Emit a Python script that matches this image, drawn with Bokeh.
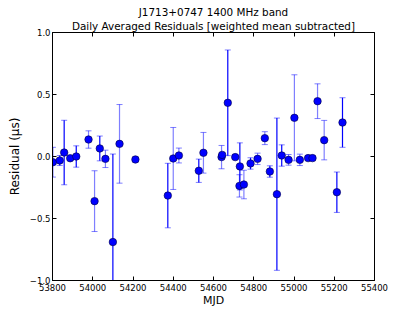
from bokeh.plotting import figure
from bokeh.models import (ColumnDataSource, LinearAxis, FixedTicker, Range1d,
                          CustomJSTickFormatter, Title)
from bokeh.embed import file_html
from bokeh.resources import INLINE

# ---- data ----
mjd = [53802, 53836, 53858, 53888, 53918, 53979, 54009, 54035, 54063, 54100,
       54133, 54212, 54373, 54400, 54428, 54527, 54550, 54640, 54643, 54671,
       54708, 54731, 54729, 54751, 54784, 54819, 54855, 54880, 54915, 54939,
       54973, 55002, 55029, 55070, 55092, 55117, 55150, 55213, 55241]
residual = [-0.046, -0.032, 0.032, -0.014, 0.0, 0.137, -0.36, 0.065, -0.019, -0.69,
            0.102, -0.024, -0.315, -0.016, 0.008, -0.115, 0.03, -0.005, 0.013, 0.433,
            -0.005, -0.08, -0.237, -0.226, -0.056, -0.019, 0.148, -0.121, -0.304, 0.008,
            -0.027, 0.312, -0.027, -0.013, -0.013, 0.446, 0.132, -0.288, 0.274]
error = [0.12, 0.04, 0.26, 0.02, 0.086, 0.07, 0.245, 0.1, 0.07, 0.71,
         0.317, 0.02, 0.26, 0.25, 0.06, 0.094, 0.164, 0.094, 0.02, 0.426,
         0.02, 0.19, 0.09, 0.115, 0.046, 0.046, 0.052, 0.046, 0.614, 0.086,
         0.043, 0.347, 0.046, 0.02, 0.02, 0.14, 0.159, 0.163, 0.2]
dark_bar = [0, 1, 1, 0, 1, 0, 0, 1, 0, 1,
            0, 0, 1, 0, 0, 1, 0, 0, 0, 1,
            0, 1, 0, 0, 1, 0, 0, 1, 1, 1,
            0, 0, 0, 0, 0, 0, 0, 1, 1]
x_ticks = [53800, 54000, 54200, 54400, 54600, 54800, 55000, 55200, 55400]
y_ticks = [-1.0, -0.5, 0.0, 0.5, 1.0]
title_lines = ["J1713+0747 1400 MHz band",
               "Daily Averaged Residuals [weighted mean subtracted]"]

lo = [r - e for r, e in zip(residual, error)]
hi = [r + e for r, e in zip(residual, error)]
alpha = [1.0 if d else 0.5 for d in dark_bar]

src = ColumnDataSource(dict(x=mjd, y=residual, lo=lo, hi=hi, a=alpha))

FONT = "DejaVu Sans"

p = figure(width=407, height=312, output_backend="svg", toolbar_location=None,
           title=None,
           x_range=Range1d(53800, 55400), y_range=Range1d(-1.0, 1.0),
           min_border_left=52, min_border_right=33, min_border_top=32,
           min_border_bottom=32, x_axis_label="MJD", y_axis_label="Residual (μs)")
p.background_fill_color = "white"
p.border_fill_color = "white"
p.outline_line_color = "black"
p.outline_line_width = 1
p.grid.visible = False

# error bars
p.segment(x0="x", y0="lo", x1="x", y1="hi", source=src, line_color="blue",
          line_alpha="a", line_width=1.2)
p.scatter(x="x", y="lo", source=src, marker="dash", size=6, line_color="blue",
          line_alpha=0.5, line_width=1)
p.scatter(x="x", y="hi", source=src, marker="dash", size=6, line_color="blue",
          line_alpha=0.5, line_width=1)
# points
p.scatter(x="x", y="y", source=src, marker="circle", size=7.5, fill_color="blue",
          line_color="#000040", line_width=0.6)

yfmt = CustomJSTickFormatter(code="""
return (tick < 0 ? "\\u2212" : "") + Math.abs(tick).toFixed(1);
""")
blank = CustomJSTickFormatter(code="return '';")

for ax in p.xaxis:
    ax.ticker = FixedTicker(ticks=x_ticks)
for ax in p.yaxis:
    ax.ticker = FixedTicker(ticks=y_ticks)
    ax.formatter = yfmt

for ax in list(p.xaxis) + list(p.yaxis):
    ax.major_tick_in = 4
    ax.major_tick_out = 0
    ax.minor_tick_line_color = None
    ax.major_tick_line_color = "black"
    ax.axis_line_color = "black"
    ax.major_label_text_font = FONT
    ax.major_label_text_font_size = "8.5px"
    ax.major_label_text_color = "black"
    ax.major_label_standoff = 3
    ax.axis_label_text_font = FONT
    ax.axis_label_text_font_size = "11px"
    ax.axis_label_text_font_style = "normal"
    ax.axis_label_text_color = "black"
p.xaxis.axis_label_standoff = 0
p.yaxis.axis_label_standoff = 5
p.yaxis.axis_label_text_font_size = "12px"
p.yaxis.major_label_standoff = 2

top = LinearAxis(ticker=FixedTicker(ticks=x_ticks), formatter=blank,
                 major_tick_in=4, major_tick_out=0, minor_tick_line_color=None,
                 axis_line_color=None, major_label_standoff=0)
right = LinearAxis(ticker=FixedTicker(ticks=y_ticks), formatter=blank,
                   major_tick_in=4, major_tick_out=0, minor_tick_line_color=None,
                   axis_line_color=None, major_label_standoff=0)
p.add_layout(top, "above")
p.add_layout(right, "right")

# two-line title, centred over the plot area (first added sits nearest the plot)
p.add_layout(Title(text=title_lines[1], align="center", text_font=FONT,
                   text_font_size="10.4px", text_font_style="normal",
                   text_color="black", standoff=1), "above")
p.add_layout(Title(text=title_lines[0], align="center", text_font=FONT,
                   text_font_size="10.4px", text_font_style="normal",
                   text_color="black", standoff=0), "above")

open("out.html", "w").write(file_html(p, INLINE))
